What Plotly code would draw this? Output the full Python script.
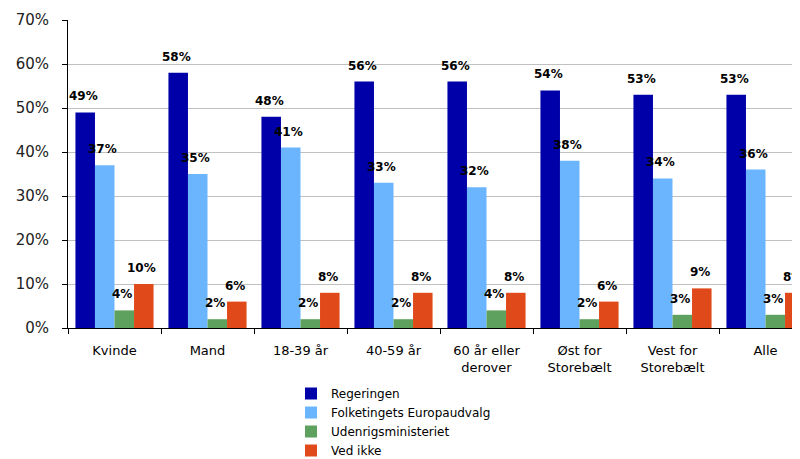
import plotly.graph_objects as go

categories = ["Kvinde", "Mand", "18-39 år", "40-59 år", "60 år eller<br>derover",
              "Øst for<br>Storebælt", "Vest for<br>Storebælt", "Alle"]
series_names = ["Regeringen", "Folketingets Europaudvalg", "Udenrigsministeriet", "Ved ikke"]
regeringen = [49, 58, 48, 56, 56, 54, 53, 53]
folketinget = [37, 35, 41, 33, 32, 38, 34, 36]
udenrigs = [4, 2, 2, 2, 4, 2, 3, 3]
ved_ikke = [10, 6, 8, 8, 8, 6, 9, 8]
y_ticks = [0, 10, 20, 30, 40, 50, 60, 70]

series = [regeringen, folketinget, udenrigs, ved_ikke]
colors = ["#0000A8", "#6BB5FF", "#5EA15E", "#E04A1A"]
FONT = "DejaVu Sans, Liberation Sans, Arial, sans-serif"

fig = go.Figure()
for name, vals, col in zip(series_names, series, colors):
    fig.add_trace(go.Bar(
        x=categories, y=vals, name=name,
        marker=dict(color=col, line=dict(width=0)),
    ))

# plot geometry (figure pixels; page adds an 8px body margin)
W, H = 800, 459
ml, mr, mt, mb = 60, 0, 12, 0
plot_bottom_px = 320
cat_target = 93.0
plot_w = W - ml - mr
paper_h = H - mt - mb
xmax = plot_w / cat_target - 0.5
bargap = 0.16
bar_px = cat_target * (1 - bargap) / 4
y_dom0 = (H - mb - plot_bottom_px) / paper_h

annotations = []
for si, vals in enumerate(series):
    off = (si - 1.5) * bar_px - 2
    for c, v in zip(categories, vals):
        annotations.append(dict(
            x=c, y=v, xref="x", yref="y", text=f"<b>{v}%</b>", showarrow=False,
            xshift=off, yshift=7, yanchor="bottom", xanchor="center",
            font=dict(family=FONT, size=12, color="#000000"),
        ))

fig.update_layout(
    width=W, height=H,
    margin=dict(l=ml, r=mr, t=mt, b=mb, autoexpand=False),
    paper_bgcolor="white", plot_bgcolor="white",
    barmode="group", bargap=bargap, bargroupgap=0,
    font=dict(family=FONT, color="#000000"),
    showlegend=True,
    legend=dict(
        x=(283 - ml) / plot_w, y=(H - mb - 371) / paper_h,
        xanchor="left", yanchor="top",
        font=dict(family=FONT, size=12, color="#000000"),
        bgcolor="rgba(0,0,0,0)", traceorder="normal",
        tracegroupgap=0,
    ),
    annotations=annotations,
    xaxis=dict(
        range=[-0.5, xmax], showgrid=False,
        showline=True, linecolor="#000000", linewidth=1,
        ticks="outside", tickson="boundaries", ticklen=5, tickcolor="#000000",
        tickfont=dict(family=FONT, size=13, color="#000000"),
        ticklabelstandoff=10,
        automargin=False, anchor="y",
    ),
    yaxis=dict(
        domain=[y_dom0, 1],
        range=[0, 70], tickvals=y_ticks, ticktext=[f"{t}%" for t in y_ticks],
        showgrid=True, gridcolor="#C0C0C0", gridwidth=1,
        showline=True, linecolor="#000000", linewidth=1,
        ticks="outside", ticklen=5, tickcolor="#000000",
        tickfont=dict(family=FONT, size=15, color="#222222"),
        ticklabelstandoff=10,
        zeroline=False, automargin=False,
    ),
)

fig.write_html("out.html")
